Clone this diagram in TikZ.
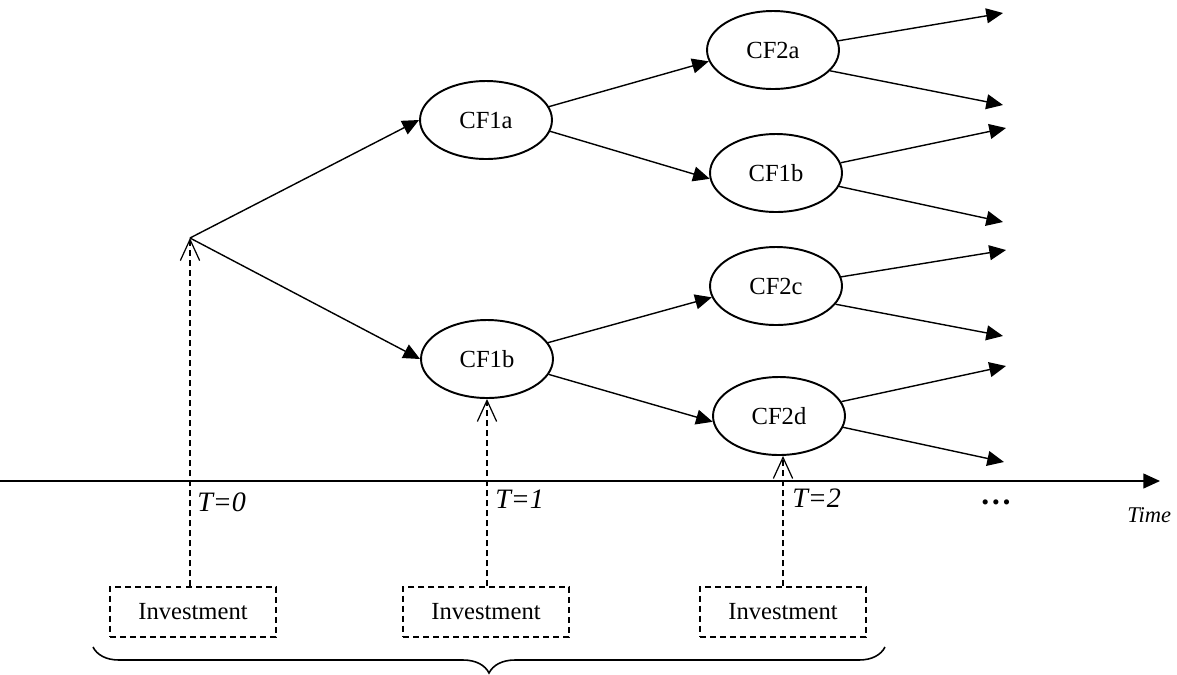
\documentclass[tikz,border=0pt]{standalone}
\usepackage{fontspec}
\setmainfont{Liberation Serif}
\usetikzlibrary{arrows.meta,shapes.geometric,decorations.pathreplacing}

\begin{document}
\begin{tikzpicture}[
        x=0.02cm, y=-0.02cm,
        cf/.style={
            draw,
            ellipse,
            line width=1.1pt,
            inner sep=0pt,
            minimum width=2.64cm,
            minimum height=1.56cm,
            font=\fontsize{14}{16}\selectfont
        },
        invest/.style={
            draw,
            rectangle,
            dash pattern=on 3.4pt off 2.3pt,
            line width=0.7pt,
            inner sep=0pt,
            minimum width=3.32cm,
            minimum height=1cm,
            font=\fontsize{14}{16}\selectfont
        },
        flow/.style={
            -{Triangle[length=9.5pt,width=8.5pt]},
            line width=0.8pt
        },
        invarrow/.style={
            -{Straight Barb[length=12pt,width=11pt]},
            dash pattern=on 3.4pt off 2.3pt,
            line width=0.7pt
        },
        tlabel/.style={
            anchor=base west,
            inner sep=0pt,
            font=\itshape\fontsize{16}{18}\selectfont
        }
    ]
        \useasboundingbox (0,0) rectangle (1177,674);

        % tree of cash flows
        \coordinate (t0) at (190,238);
        \node (cf1a) [cf] at (486,120) {CF1a};
        \node (cf1b) [cf] at (487,359) {CF1b};
        \node (cf2a) [cf] at (773,50) {CF2a};
        \node (cf1bb) [cf] at (776,173) {CF1b};
        \node (cf2c) [cf] at (776,286) {CF2c};
        \node (cf2d) [cf] at (779,416) {CF2d};

        \draw[flow] (t0) -- (cf1a.west);
        \draw[flow] (t0) -- (cf1b.west);
        \draw[flow] (cf1a.12) -- (cf2a.190);
        \draw[flow] (cf1a.-10) -- (cf1bb.185);
        \draw[flow] (cf1b.15) -- (cf2c.190);
        \draw[flow] (cf1b.-14) -- (cf2d.185);

        % open ends
        \coordinate (e1) at (1003,13);
        \coordinate (e2) at (1003,105);
        \coordinate (e3) at (1006,128);
        \coordinate (e4) at (1003,222);
        \coordinate (e5) at (1006,250);
        \coordinate (e6) at (1003,336);
        \coordinate (e7) at (1006,366);
        \coordinate (e8) at (1004,462);
        \draw[flow] (cf2a.8) -- (e1);
        \draw[flow] (cf2a.-20) -- (e2);
        \draw[flow] (cf1bb.9) -- (e3);
        \draw[flow] (cf1bb.-12) -- (e4);
        \draw[flow] (cf2c.8) -- (e5);
        \draw[flow] (cf2c.-17) -- (e6);
        \draw[flow] (cf2d.13) -- (e7);
        \draw[flow] (cf2d.-10) -- (e8);

        % time axis
        \coordinate (axl) at (0,481);
        \coordinate (axr) at (1160,481);
        \draw[flow] (axl) -- (axr);
        \node (lt0) [tlabel] at (197,511) {T=0};
        \node (lt1) [tlabel] at (495,508) {T=1};
        \node (lt2) [tlabel] at (792,507) {T=2};
        \node (dots) at (996,502) {\bfseries\fontsize{18}{20}\selectfont …};
        \node (time) [tlabel, font=\itshape\fontsize{12.8}{15}\selectfont] at (1127,522) {Time};

        % investments
        \node (inv1) [invest] at (193,612) {Investment};
        \node (inv2) [invest] at (486,612) {Investment};
        \node (inv3) [invest] at (783,612) {Investment};
        \draw[invarrow] (t0 |- inv1.north) -- (t0);
        \draw[invarrow] (inv2.north -| cf1b.south) -- (cf1b.south);
        \draw[invarrow] (inv3.north) -- (inv3.north |- cf2d.south);

        \coordinate (bl) at (93,647);
        \coordinate (br) at (885,647);
        \draw[decorate, decoration={brace, mirror, amplitude=0.52cm}, line width=0.9pt] (bl) -- (br);
    \end{tikzpicture}
\end{document}
